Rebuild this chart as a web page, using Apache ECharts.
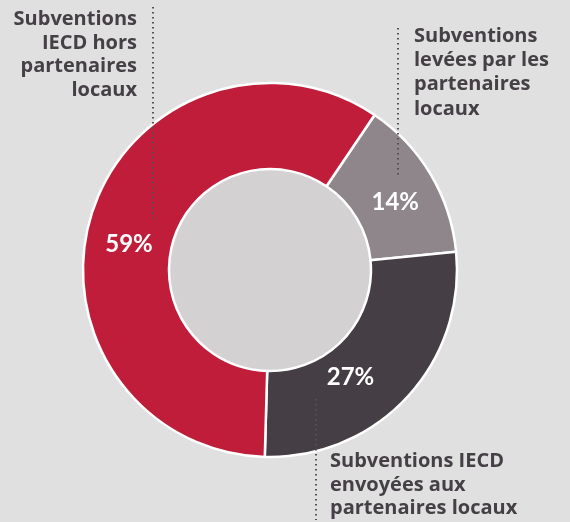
<!DOCTYPE html>
<html>
<head>
<meta charset="utf-8">
<script src="https://cdn.jsdelivr.net/npm/echarts@6/dist/echarts.min.js"></script>
<style>
html,body{margin:0;padding:0;background:#e0e0e0;}
#chart{width:570px;height:522px;}
</style>
</head>
<body>
<div id="chart"></div>
<script>
// Data
var categories = [
  'Subventions levées par les partenaires locaux',
  'Subventions IECD envoyées aux partenaires locaux',
  'Subventions IECD hors partenaires locaux'
];
var values = [14, 27, 59];
var colors = ['#8e868a', '#453e44', '#c01d3a'];
var labelLinesGray = ['Subventions', 'levées par les', 'partenaires', 'locaux'];
var labelLinesDark = ['Subventions IECD', 'envoyées aux', 'partenaires locaux'];
var labelLinesRed = ['Subventions', 'IECD hors', 'partenaires', 'locaux'];

var labelOffsets = [[-1, 8], [-27, 7], [-1, 19]];

var chart = echarts.init(document.getElementById('chart'), null, {renderer: 'canvas'});
var FONT = '"Open Sans", Lato, sans-serif';
var PFONT = 'Lato, "Open Sans", sans-serif';
var textColor = '#454045';

var pieData = categories.map(function (c, i) {
  return {
    name: c,
    value: values[i],
    itemStyle: {color: colors[i]},
    label: {offset: labelOffsets[i]}
  };
});

function dotted(x, y1, y2) {
  return {
    type: 'line',
    shape: {x1: x, y1: y1, x2: x, y2: y2},
    style: {stroke: '#555055', lineWidth: 2, lineDash: [1.5, 3.5]},
    z: 100
  };
}
function textBlock(lines, x, y, align, lh) {
  return {
    type: 'text',
    x: x, y: y,
    style: {
      text: lines.join('\n'),
      fill: textColor,
      font: 'bold 20px ' + FONT,
      lineHeight: lh,
      align: align,
      verticalAlign: 'top'
    },
    z: 100
  };
}

chart.setOption({
  backgroundColor: '#e0e0e0',
  animation: false,
  series: [
    {
      type: 'pie',
      center: [270, 270],
      radius: [0, 101],
      silent: true,
      label: {show: false},
      labelLine: {show: false},
      itemStyle: {color: '#d4d1d2'},
      data: [{value: 1, name: ''}],
      z: 1
    },
    {
      type: 'pie',
      center: [270, 270],
      radius: [101, 187],
      startAngle: 56,
      clockwise: true,
      avoidLabelOverlap: false,
      itemStyle: {borderColor: '#ffffff', borderWidth: 2.5},
      label: {
        show: true,
        position: 'inside',
        formatter: function (p) { return p.value + '%'; },
        color: '#ffffff',
        fontFamily: PFONT,
        fontWeight: 'bold',
        fontSize: 24
      },
      labelLine: {show: false},
      data: pieData,
      z: 2
    }
  ],
  graphic: [
    dotted(153, 7, 220),
    dotted(398, 28, 178),
    dotted(316, 399, 520),
    textBlock(labelLinesRed, 137, 8, 'right', 23.5),
    textBlock(labelLinesGray, 414, 24, 'left', 24.3),
    textBlock(labelLinesDark, 330, 450, 'left', 23.5)
  ]
});
</script>
</body>
</html>
